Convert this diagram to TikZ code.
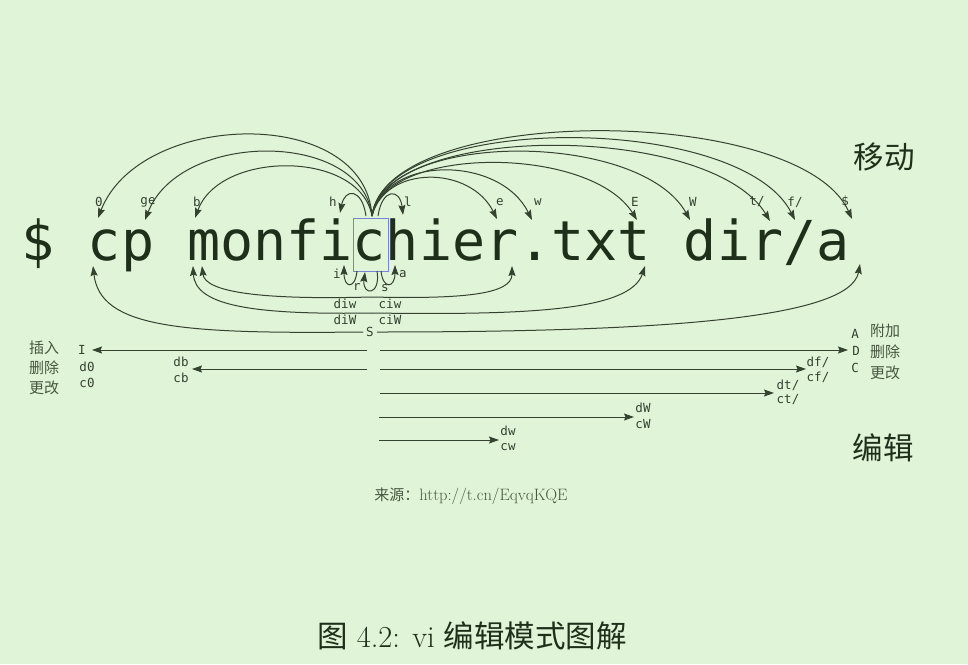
\documentclass[tikz,border=0pt]{standalone}
\usepackage{fontspec}
\usetikzlibrary{arrows.meta}
\newfontfamily\monof{DejaVu Sans Mono}
\newfontfamily\cjkf{Noto Sans CJK SC}
\definecolor{bgc}{RGB}{224,244,216}
\definecolor{txtc}{RGB}{30,48,26}
\definecolor{linec}{RGB}{52,66,48}
\definecolor{boxc}{RGB}{120,130,215}
\definecolor{srcc}{RGB}{70,88,64}
\begin{document}
\begin{tikzpicture}[x=1pt,y=-1pt,
  arr/.style={draw=linec, line width=1pt, -{Stealth[length=10pt,width=7pt,inset=1.5pt]}},
  lbl/.style={font=\monof\fontsize{12.5}{13}\selectfont, text=linec, inner sep=0pt},
  big/.style={font=\monof\fontsize{55}{60}\selectfont, text=txtc, inner sep=0pt, text depth=0pt},
  cjks/.style={font=\cjkf\fontsize{15}{16}\selectfont, text=srcc, inner sep=0pt},
  cjkb/.style={font=\cjkf\fontsize{30.5}{32}\selectfont, text=txtc, inner sep=0pt}]
\fill[bgc] (0,0) rectangle (968,664);
\useasboundingbox (0,0) rectangle (968,664);

% command line
\node[big, anchor=base west] (cmd1) at (21.5,260) {\$ cp};
\node[big, anchor=base west] (cmd2) at (187.05,260) {monfichier.txt dir/a};
\node[draw=boxc, line width=0.8pt, minimum width=35pt, minimum height=53pt, inner sep=0pt] (cur) at (370.5,244.5) {};

% sources
\coordinate (src) at (372,216);
\coordinate (srcL) at (366,216);
\coordinate (srcR) at (378,216);

% top targets
\coordinate (t0) at (98,218);
\coordinate (tge) at (145,220);
\coordinate (tb) at (195,218);
\coordinate (th) at (340,213);
\coordinate (tl) at (403,215);
\coordinate (te) at (497,219);
\coordinate (tw) at (532,220);
\coordinate (tE) at (637,220);
\coordinate (tW) at (690,220);
\coordinate (tt) at (770,221);
\coordinate (tf) at (795,220);
\coordinate (tdol) at (852,219);

% top labels
\node[lbl] (l0) at (99,202) {0};
\node[lbl] (lge) at (148,202) {ge};
\node[lbl] (lb) at (197,202) {b};
\node[lbl] (lh) at (333,202) {h};
\node[lbl] (ll) at (408,202) {l};
\node[lbl] (le) at (500,202) {e};
\node[lbl] (lw) at (538,202) {w};
\node[lbl] (lE) at (635,202) {E};
\node[lbl] (lW) at (693,202) {W};
\node[lbl] (lt) at (757,202) {t/};
\node[lbl] (lf) at (795,202) {f/};
\node[lbl] (ldol) at (845,202) {\$};

% top arcs
\draw[arr] (src) .. controls (365,105) and (140,110) .. (t0);
\draw[arr] (src) .. controls (362,130) and (180,130) .. (tge);
\draw[arr] (src) .. controls (360,150) and (220,150) .. (tb);
\draw[arr] (srcL) .. controls (362,188) and (345,188) .. (th);
\draw[arr] (srcR) .. controls (382,188) and (400,188) .. (tl);
\draw[arr] (src) .. controls (385,165) and (470,165) .. (te);
\draw[arr] (src) .. controls (385,155) and (500,155) .. (tw);
\draw[arr] (src) .. controls (385,145) and (590,145) .. (tE);
\draw[arr] (src) .. controls (385,130) and (640,130) .. (tW);
\draw[arr] (src) .. controls (385,122) and (710,122) .. (tt);
\draw[arr] (src) .. controls (385,112) and (740,112) .. (tf);
\draw[arr] (src) .. controls (385,103) and (800,103) .. (tdol);

% small loops below cursor
\coordinate (bi) at (357,271);
\coordinate (ti) at (344,265);
\coordinate (brs1) at (377,271);
\coordinate (trs) at (365,272);
\coordinate (ba) at (381,271);
\coordinate (ta) at (395,265);
\draw[arr] (bi) .. controls (355,290) and (344,288) .. (ti);
\draw[arr] (brs1) .. controls (381,296) and (362,296) .. (trs);
\draw[arr] (ba) .. controls (383,290) and (395,288) .. (ta);
\node[lbl] (li) at (337,274) {i};
\node[lbl] (la) at (403,274) {a};
\node[lbl] (lr) at (357,287) {r};
\node[lbl] (ls) at (385,288) {s};

% lower arcs
\node[lbl] (ldiw) at (345,304) {diw};
\node[lbl] (lciw) at (390,304) {ciw};
\node[lbl] (ldiW) at (345,320) {diW};
\node[lbl] (lciW) at (390,320) {ciW};
\node[lbl, inner sep=3pt] (lS) at (370,332) {S};

\coordinate (m1) at (371,297);
\coordinate (m2) at (371,313);
\coordinate (tdiwL) at (202,266);
\coordinate (tdiwR) at (512,266);
\coordinate (tdiWL) at (193,266);
\coordinate (tdiWR) at (645,266);
\coordinate (tSL) at (93,266);
\coordinate (tSR) at (860,264);
\draw[arr] (m1) .. controls (260,300) and (205,292) .. (tdiwL);
\draw[arr] (m1) .. controls (460,299) and (512,295) .. (tdiwR);
\draw[arr] (m2) .. controls (250,315) and (195,305) .. (tdiWL);
\draw[arr] (m2) .. controls (520,315) and (630,312) .. (tdiWR);
\draw[arr] (lS.west) .. controls (180,334) and (100,328) .. (tSL);
\draw[arr] (lS.east) .. controls (650,332) and (850,320) .. (tSR);

% edit rows, left
\node[lbl] (lI) at (82,350) {I};
\node[lbl] (ld0) at (87,367) {d0};
\node[lbl] (lc0) at (87,383) {c0};
\node[lbl] (ldb) at (181,362) {db};
\node[lbl] (lcb) at (181,378) {cb};
\node[cjks] (zins) at (44,348) {插入};
\node[cjks] (zdel) at (44,368) {删除};
\node[cjks] (zchg) at (44,388) {更改};
\coordinate (sI) at (367,350);
\coordinate (tI) at (92,350);
\coordinate (sdb) at (367,369);
\coordinate (tdb) at (192,369);
\draw[arr] (sI) -- (tI);
\draw[arr] (sdb) -- (tdb);

% edit rows, right
\node[lbl] (lA) at (855,334) {A};
\node[lbl] (lD) at (856,351) {D};
\node[lbl] (lC) at (855,368) {C};
\node[cjks] (zapp) at (885,331) {附加};
\node[cjks] (zdel2) at (885,352) {删除};
\node[cjks] (zchg2) at (885,373) {更改};
\node[lbl] (ldf) at (818,362) {df/};
\node[lbl] (lcf) at (818,377) {cf/};
\node[lbl] (ldt) at (788,385) {dt/};
\node[lbl] (lct) at (788,400) {ct/};
\node[lbl] (ldW) at (643,408) {dW};
\node[lbl] (lcW) at (643,424) {cW};
\node[lbl] (ldw) at (508,431) {dw};
\node[lbl] (lcw) at (508,447) {cw};

\coordinate (sD) at (380,350);
\coordinate (tD) at (848,350);
\coordinate (sf) at (380,369);
\coordinate (tfr) at (806,369);
\coordinate (st) at (380,393);
\coordinate (ttr) at (774,393);
\coordinate (sW) at (379,417);
\coordinate (tWr) at (634,417);
\coordinate (sw) at (379,440);
\coordinate (twr) at (499,440);
\draw[arr] (sD) -- (tD);
\draw[arr] (sf) -- (tfr);
\draw[arr] (st) -- (ttr);
\draw[arr] (sW) -- (tWr);
\draw[arr] (sw) -- (twr);

% titles
\node[cjkb] (tmove) at (884,157) {移动};
\node[cjkb] (tedit) at (883,448) {编辑};

% source
\node[inner sep=0pt, text=srcc, anchor=base] (srcline) at (471,500)
  {{\cjkf\fontsize{15}{16}\selectfont 来源：}\fontsize{16.5}{18}\selectfont http://t.cn/EqvqKQE};

% caption
\node[inner sep=0pt, text=txtc, anchor=base] (cap) at (472,647)
  {\fontsize{30.5}{33}\selectfont{\cjkf 图} 4.2: vi {\cjkf 编辑模式图解}};
\end{tikzpicture}
\end{document}
